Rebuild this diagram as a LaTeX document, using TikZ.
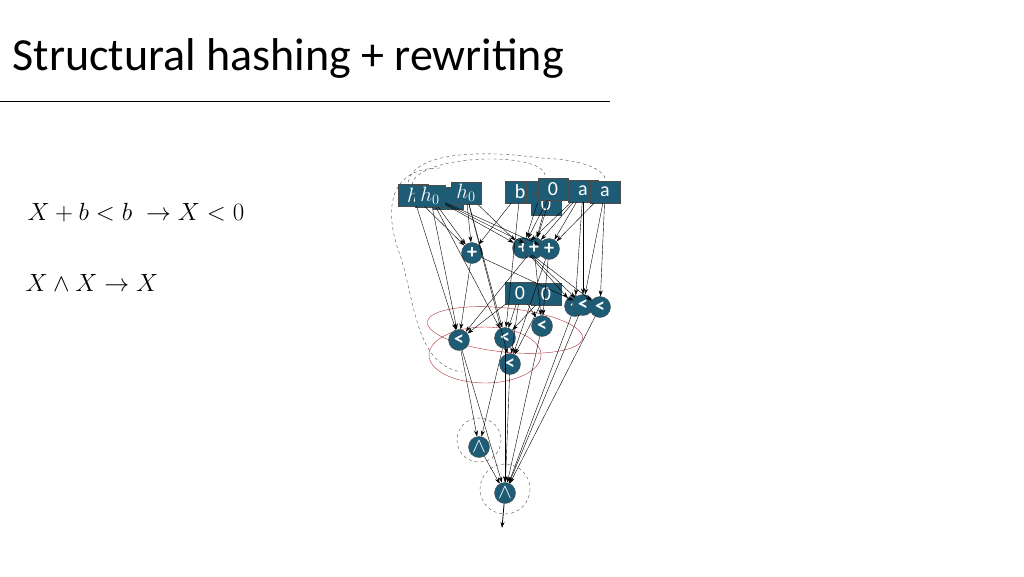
\documentclass[tikz,border=0pt]{standalone}
\usepackage{fontspec}
\setsansfont{Carlito}
\usetikzlibrary{arrows.meta}
\definecolor{nodeteal}{HTML}{1E5B74}
\definecolor{ringred}{HTML}{B0303A}
\tikzset{
  box/.style={draw=black!70, fill=nodeteal, text=white, minimum width=30pt, minimum height=22pt, inner sep=0pt, font=\sffamily\fontsize{20}{20}\selectfont},
  op/.style={circle, draw=black!70, fill=nodeteal, text=white, minimum size=21pt, inner sep=0pt, font=\sffamily\bfseries\fontsize{20}{20}\selectfont},
  wire/.style={-{Stealth[length=6pt,width=4pt]}, thin},
  ring/.style={draw=black!70, dashed, thin},
}
\begin{document}
\begin{tikzpicture}[x=1pt,y=-1pt]
    \useasboundingbox (0,0) rectangle (1024,576);
    % title
    \node[anchor=west, font=\sffamily\fontsize{46}{46}\selectfont] (title) at (9,58) {Structural hashing + rewriting};
    \draw[thick] (0,101) -- (610,101);
    % rules
    \node[anchor=west, font=\fontsize{23}{23}\selectfont] (rule1) at (24,213) {$X+b<b\ \rightarrow X<0$};
    \node[anchor=west, font=\fontsize{23}{23}\selectfont] (rule2) at (22,283) {$X\wedge X\rightarrow X$};
    % dashed outlines
    \draw[ring] (440,168) .. controls (385,168) and (385,215) .. (400,255)
        .. controls (415,300) and (415,365) .. (462,372);
    \draw[ring] (408,188) .. controls (405,155) and (470,148) .. (540,158)
        .. controls (600,160) and (618,178) .. (598,195);
    \draw[ring] (412,185) .. controls (415,155) and (540,150) .. (545,175);
    \draw[ring] (479,440) circle (22);
    \draw[ring] (505,489) circle (25);
    % red rings
    \draw[ringred] (505,330) ellipse [x radius=78, y radius=22, rotate=-6];
    \draw[ringred] (485,355) ellipse [x radius=56, y radius=28];
    % inputs
    \node[box] (hA) at (413,195) {$h$};
    \node[box] (hB) at (448,198) {};
    \node[box] (h1) at (430,196) {$h_0$};
    \node[box] (h2) at (466,193) {$h_0$};
    \node[box] (b1) at (520,192) {b};
    \node[box] (b2) at (541,192) {};
    \node[box] (z2) at (546,204) {0};
    \node[box] (z1) at (553,189) {0};
    \node[box] (a1) at (583,191) {a};
    \node[box] (a2) at (605,192) {a};
    % adders
    \node[op] (p1) at (472,253) {+};
    \node[op] (p2) at (523,248) {+};
    \node[op] (p3) at (534,248) {+};
    \node[op] (p4) at (549,249) {+};
    % constants
    \node[box] (c1) at (520,293) {0};
    \node[box] (c2) at (546,294) {0};
    % comparisons
    \node[op] (l1) at (575,306) {<};
    \node[op] (l2) at (583,305) {<};
    \node[op] (l3) at (600,307) {<};
    \node[op] (l4) at (459,340) {<};
    \node[op] (l5) at (505,338) {<};
    \node[op] (l6) at (542,326) {<};
    \node[op] (l7) at (510,364) {<};
    % ands
    \node[op] (n1) at (479,447) {$\wedge$};
    \node[op] (n2) at (505,493) {$\wedge$};
    \coordinate (out) at (502,528);
    % wires
    \foreach \s/\t in {h1/p1, h1/p2, h1/p3, h1/p4, h2/p1, h2/p2, hA/p1, hA/l4, h1/l4, h1/l5, h2/l5, h2/l7,
        b1/p1, b1/l5, b2/p2, z1/p2, z1/p3, z2/p3, a1/p2, a1/p3, a1/p4, a1/l1, a1/l2, a2/p4, a2/l3, a2/l2,
        p1/l4, p1/l2, p2/l1, p2/l2, p2/l3, p3/l4, p3/l6, p4/l6, p4/l7,
        c1/l4, c1/l5, c1/l7, c1/l6, c2/l7, c2/l5,
        l4/n1, l4/n2, l5/n1, l5/n2, l7/n2, l1/n2, l2/n2, l3/n2, l6/n2, n1/n2}
        \draw[wire] (\s) -- (\t);
    \draw[wire, thick] (n2) -- (out);
\end{tikzpicture}
\end{document}
